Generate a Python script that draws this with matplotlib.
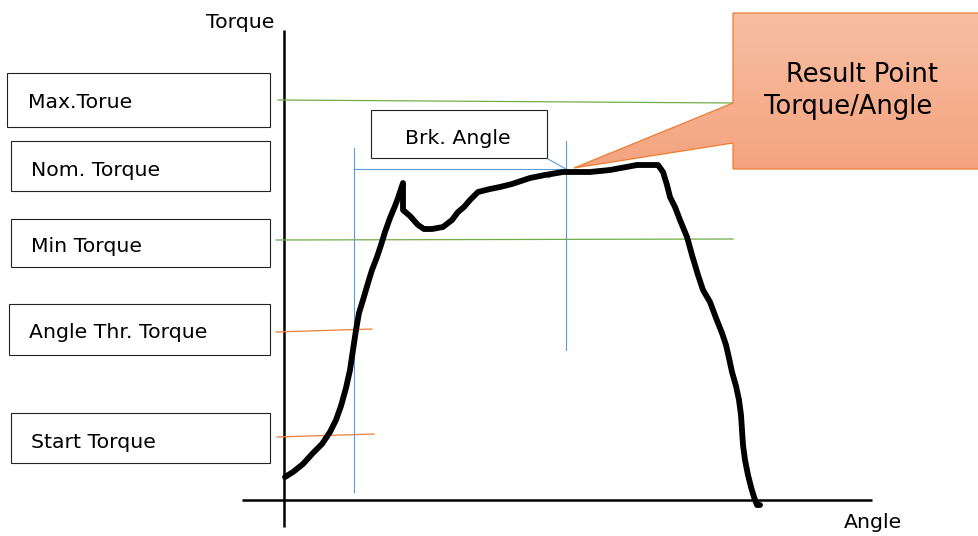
import matplotlib
matplotlib.use("Agg")
import matplotlib.pyplot as plt
import numpy as np
from matplotlib.patches import Rectangle, Polygon
from matplotlib.colors import LinearSegmentedColormap

# ---- data (angle / torque units, origin at axes crossing) ----
curve_angle = [1, 9, 19, 29, 38, 46, 52, 57, 62, 66, 69, 72, 75, 79, 84, 88, 93, 97, 101, 106,
               111, 114, 119, 119, 126, 134, 140, 148, 159, 168, 174, 180, 186, 194, 206, 216, 228, 246, 261, 279,
               306, 326, 353, 374, 379, 383, 386, 391, 396, 403, 408, 414, 419, 426, 432, 438, 442, 445, 448, 452,
               455, 457, 458, 459, 461, 464, 467, 470, 473, 476]
curve_torque = [23, 28, 36, 47, 56, 68, 80, 94, 112, 130, 150, 170, 187, 200, 217, 230, 243, 255, 268, 282,
                294, 302, 317, 290, 284, 275, 271, 271, 273, 280, 288, 293, 300, 308, 311, 313, 316, 322, 325, 328,
                328, 330, 335, 335, 328, 315, 303, 293, 280, 263, 245, 225, 210, 198, 182, 167, 155, 142, 128, 114,
                100, 85, 70, 55, 40, 25, 13, 3, -5, -5]

label_names = ["Max.Torue", "Nom. Torque", "Min Torque", "Angle Thr. Torque", "Start Torque"]
box_left = [-277, -273, -273, -275, -273]
box_top = [427, 359, 281, 196, 87]
box_bottom = [373, 309, 233, 145, 37]
box_right = -14
text_x = [-256, -253, -253, -255, -253]
text_y = [398, 330, 253, 167, 58]

green_x = [[-6, 449], [-8, 449]]
green_y = [[400, 397], [260, 261]]
orange_x = [[-8, 88], [-7, 90]]
orange_y = [[168, 171], [63, 66]]

brk_start, brk_end, brk_level = 70, 282, 331

fig = plt.figure(figsize=(9.79, 5.36), dpi=100)
ax = fig.add_axes([0, 0, 1, 1])
ax.set_xlim(-284, 695)
ax.set_ylim(-36, 500)
ax.axis("off")

fs = 14.7

# axes lines
ax.plot([0, 0], [-27, 470], color="black", lw=1.8, solid_capstyle="butt")
ax.plot([-42, 588], [0, 0], color="black", lw=1.8, solid_capstyle="butt")
ax.text(-44, 478, "Torque", fontsize=fs, ha="center", va="center")
ax.text(589, -23, "Angle", fontsize=fs, ha="center", va="center")

# limit lines
for xs, ys in zip(green_x, green_y):
    ax.plot(xs, ys, color="#70AD47", lw=0.9)
for xs, ys in zip(orange_x, orange_y):
    ax.plot(xs, ys, color="#ED7D31", lw=0.9)

# brk angle lines
blue = "#5B9BD5"
ax.plot([brk_start, brk_start], [352, 8], color=blue, lw=0.8)
ax.plot([brk_end, brk_end], [359, 150], color=blue, lw=0.8)
ax.plot([brk_start, brk_end], [brk_level, brk_level], color=blue, lw=0.8)
ax.plot([brk_end - 18, brk_end, brk_end - 18], [brk_level + 10, brk_level, brk_level - 9], color=blue, lw=0.8)

# left label boxes
for name, l, t, b, tx, ty in zip(label_names, box_left, box_top, box_bottom, text_x, text_y):
    ax.add_patch(Rectangle((l, b), box_right - l, t - b, facecolor="white", edgecolor="#222222", lw=0.8))
    ax.text(tx, ty, name, fontsize=fs, ha="left", va="center")

# brk angle box
ax.add_patch(Rectangle((87, 342), 176, 48, facecolor="white", edgecolor="#222222", lw=0.8))
ax.text(174, 362, "Brk. Angle", fontsize=fs, ha="center", va="center")

# curve
ax.plot(curve_angle, curve_torque, color="black", lw=4.2, solid_joinstyle="round", solid_capstyle="round")

# callout
poly_pts = [(449, 487), (700, 487), (700, 331), (449, 331), (449, 357), (290, 332), (449, 397)]
callout = Polygon(poly_pts, closed=True, facecolor="none", edgecolor="#ED7D31", lw=0.9, zorder=5)
ax.add_patch(callout)
cmap = LinearSegmentedColormap.from_list("callout", ["#F7BFA4", "#F4A37E"])
grad = np.linspace(0, 1, 256).reshape(-1, 1)
im = ax.imshow(grad, cmap=cmap, extent=[285, 700, 330, 488], origin="upper", aspect="auto", zorder=4)
clip = Polygon(poly_pts, closed=True, transform=ax.transData)
im.set_clip_path(clip)
ax.set_xlim(-284, 695)
ax.set_ylim(-36, 500)
ax.text(578, 425, "Result Point", fontsize=18.5, ha="center", va="center", zorder=6)
ax.text(564, 393, "Torque/Angle", fontsize=18.5, ha="center", va="center", zorder=6)

fig.savefig("out.png", dpi=100)
